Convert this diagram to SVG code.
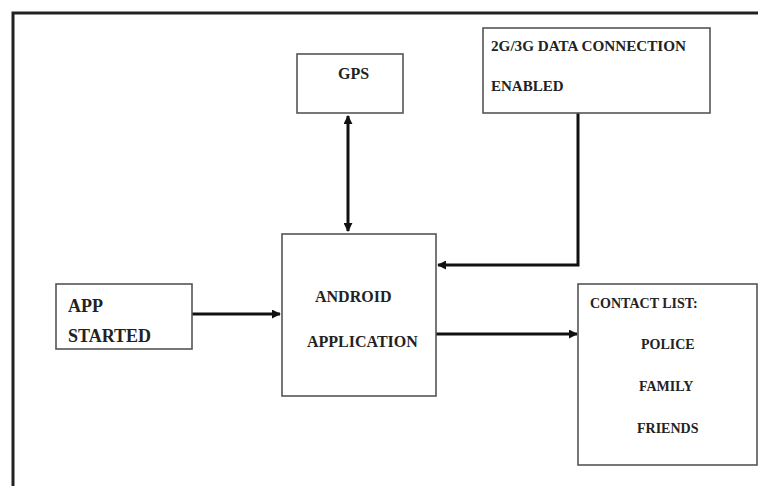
<svg xmlns="http://www.w3.org/2000/svg" width="758" height="486" viewBox="0 0 758 486">
<style>
.box{fill:#fff;stroke:#555;stroke-width:1.6}
.t{font-family:"Liberation Serif","Times New Roman",serif;font-weight:bold;fill:#222}
.c{fill:none;stroke:#111;stroke-width:3}
</style>
<defs>
<marker id="ah" viewBox="0 0 10 10" refX="9" refY="5" markerWidth="3" markerHeight="3" orient="auto-start-reverse" markerUnits="strokeWidth">
<path d="M0,0 L10,5 L0,10 z" fill="#111"/>
</marker>
</defs>
<rect width="758" height="486" fill="#fff"/>
<g id="frame">
<path d="M13,486 V13 H758" fill="none" stroke="#222" stroke-width="3"/>
</g>
<g id="connectors">
<path class="c" d="M348,116 V231" marker-start="url(#ah)" marker-end="url(#ah)"/>
<path class="c" d="M578,113 V265 H438" marker-end="url(#ah)"/>
<path class="c" d="M192,314 H280" marker-end="url(#ah)"/>
<path class="c" d="M436,334 H577" marker-end="url(#ah)"/>
</g>
<g id="gps">
<rect class="box" x="297" y="54" width="106" height="59"/>
<text class="t" x="338" y="79" font-size="16">GPS</text>
</g>
<g id="data">
<rect class="box" x="483" y="28" width="227" height="85"/>
<text class="t" x="491" y="51" font-size="15" textLength="195" lengthAdjust="spacingAndGlyphs">2G/3G DATA CONNECTION</text>
<text class="t" x="491" y="91" font-size="15">ENABLED</text>
</g>
<g id="app">
<rect class="box" x="56" y="284" width="136" height="65"/>
<text class="t" x="68" y="312" font-size="18">APP</text>
<text class="t" x="68" y="342" font-size="18">STARTED</text>
</g>
<g id="android">
<rect class="box" x="282" y="234" width="154" height="162"/>
<text class="t" x="315" y="302" font-size="16">ANDROID</text>
<text class="t" x="307" y="347" font-size="16">APPLICATION</text>
</g>
<g id="contacts">
<rect class="box" x="578" y="284" width="179" height="181"/>
<text class="t" x="590" y="308" font-size="14">CONTACT LIST:</text>
<text class="t" x="641" y="349" font-size="14">POLICE</text>
<text class="t" x="639" y="391" font-size="14">FAMILY</text>
<text class="t" x="637" y="433" font-size="14">FRIENDS</text>
</g>
</svg>
